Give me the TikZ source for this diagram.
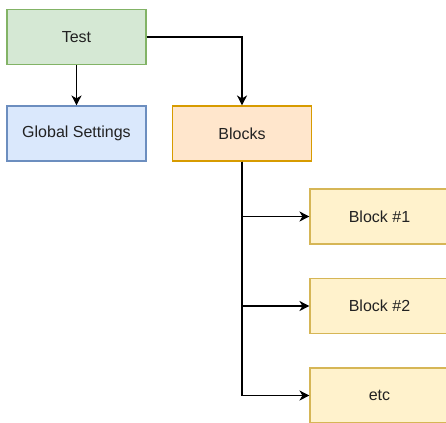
\documentclass[tikz,border=0pt]{standalone}
\usepackage{fontspec}
\setmainfont{Liberation Sans}
\usetikzlibrary{arrows.meta}
\definecolor{gfill}{HTML}{D5E8D4}\definecolor{gdraw}{HTML}{82B366}
\definecolor{bfill}{HTML}{DAE8FC}\definecolor{bdraw}{HTML}{6C8EBF}
\definecolor{ofill}{HTML}{FFE6CC}\definecolor{odraw}{HTML}{D79B00}
\definecolor{yfill}{HTML}{FFF2CC}\definecolor{ydraw}{HTML}{D6B656}
\definecolor{txt}{HTML}{222222}
\begin{document}
\begin{tikzpicture}[x=1pt,y=-1pt,
  box/.style={draw, line width=1.1pt, minimum width=139pt, minimum height=55pt, inner sep=0pt, text=txt, font=\fontsize{16}{18}\selectfont, anchor=center},
  green/.style={box, fill=gfill, draw=gdraw},
  blue/.style={box, fill=bfill, draw=bdraw},
  orange/.style={box, fill=ofill, draw=odraw},
  yellow/.style={box, fill=yfill, draw=ydraw},
  conn/.style={draw, line width=1.3pt, -{Stealth[length=10pt,width=10pt,inset=3pt]}}]
\useasboundingbox (0,0) rectangle (446,422);
\clip (0,0) rectangle (446,422);
\fill[white] (0,0) rectangle (446,422);
\node[green] (test) at (76.5,37) {Test};
\node[blue] (global) at (76.5,133.5) {Global Settings};
\node[orange] (blocks) at (242,133.5) {Blocks};
\node[yellow] (b1) at (379.5,216.5) {Block \#1};
\node[yellow] (b2) at (379.5,306) {Block \#2};
\node[yellow] (etc) at (379.5,395.5) {etc};
\draw[conn] (test) -- (global);
\draw[conn] (test.east) -| (blocks.north);
\draw[conn] (blocks.south) |- (b1.west);
\draw[conn] (blocks.south) |- (b2.west);
\draw[conn] (blocks.south) |- (etc.west);
\end{tikzpicture}
\end{document}
